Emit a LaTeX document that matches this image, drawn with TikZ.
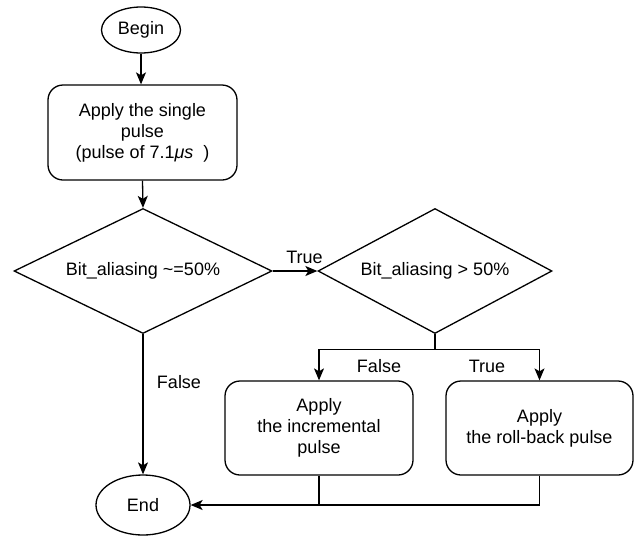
\documentclass[tikz,border=0pt]{standalone}
\usepackage{fontspec}
\setmainfont{Liberation Sans}
\usetikzlibrary{shapes.geometric,arrows.meta}
\begin{document}
\begin{tikzpicture}[x=1pt,y=-1pt,
  every node/.style={font=\fontsize{18}{21}\selectfont},
  term/.style={ellipse,draw,line width=1.3pt,inner sep=0pt},
  proc/.style={rectangle,draw,rounded corners=15pt,line width=1.3pt,align=center,inner sep=0pt},
  dec/.style={diamond,draw,line width=1.3pt,inner sep=0pt},
  lbl/.style={inner sep=1pt},
  arr/.style={-{Stealth[length=12pt,width=10pt,inset=3pt]},line width=1.3pt},
  ln/.style={line width=1.3pt}]
\useasboundingbox (0,0) rectangle (639,536);
\node[term,minimum width=79pt,minimum height=46pt] (begin) at (141,30) {Begin};
\node[proc,minimum width=189pt,minimum height=95pt] (box1) at (142.5,132.5) {Apply the single\\pulse\\(pulse of 7.1\textit{μs}\ \ )};
\node[dec,aspect=2.064,minimum width=258pt,minimum height=125pt] (d1) at (143,271) {Bit\_aliasing \textasciitilde=50\%};
\node[dec,aspect=1.872,minimum width=234pt,minimum height=125pt] (d2) at (435,271) {Bit\_aliasing > 50\%};
\node[proc,minimum width=188pt,minimum height=94pt] (box2) at (319,428) {Apply\\the incremental\\pulse};
\node[proc,minimum width=187pt,minimum height=94pt] (box3) at (539.5,428) {Apply\\the roll-back pulse};
\node[term,minimum width=94pt,minimum height=60pt] (end) at (143,505) {End};

\draw[arr] (begin.south) -- (begin.south |- box1.north);
\draw[arr] (box1.south) -- (d1.north);
\draw[arr] (d1.east) -- (d2.west);
\node[lbl] (ltrue1) at (304.5,257) {True};
\draw[ln] (d2.south) -- ++(0,15) coordinate (split);
\draw[arr] (split) -| (box2.north);
\draw[arr] (split) -| (box3.north);
\node[lbl] (lfalse2) at (379,366) {False};
\node[lbl] (ltrue2) at (487,366) {True};
\draw[arr] (d1.south) -- (end.north);
\node[lbl] (lfalse1) at (179,382) {False};
\draw[arr] (box3.south) |- (end.east);
\draw[ln] (box2.south) -- (box2.south |- end.east);
\end{tikzpicture}
\end{document}
